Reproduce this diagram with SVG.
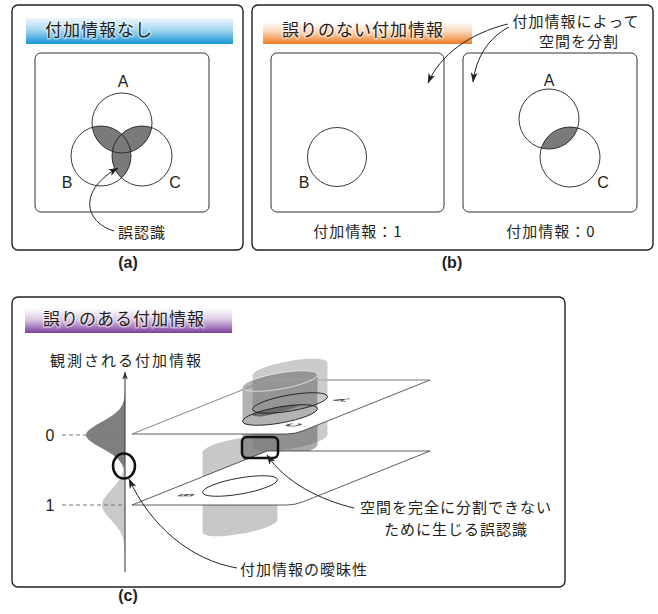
<svg xmlns="http://www.w3.org/2000/svg" width="658" height="614" viewBox="0 0 658 614">
<style>
.box{fill:#fff;stroke:#222;stroke-width:1.4}
.inner{fill:none;stroke:#333;stroke-width:1}
.circ{fill:none;stroke:#222;stroke-width:0.9}
.shade{fill:#7a7a7a}
.jp{font-family:"Noto Sans CJK JP","Noto Sans CJK SC",sans-serif;font-size:15px;fill:#231f20;letter-spacing:1px}
.hdr{font-family:"Noto Sans CJK JP","Noto Sans CJK SC",sans-serif;font-size:17px;fill:#231f20;letter-spacing:1px;stroke:#fff;stroke-width:3;stroke-opacity:0.45;paint-order:stroke}
.lat{font-family:"Liberation Sans",Arial,sans-serif;font-size:16px;fill:#231f20}
.cap{font-family:"Liberation Sans",Arial,sans-serif;font-size:16px;font-weight:bold;fill:#231f20;text-anchor:middle}
.mid{text-anchor:middle}
.conn{fill:none;stroke:#222;stroke-width:1}
.plane{fill:#fff;stroke:#333;stroke-width:0.8}
.ell{fill:none;stroke:#222;stroke-width:0.9}
.tiny{font-family:"Liberation Sans",Arial,sans-serif;font-size:12px;fill:none;stroke:#333;stroke-width:0.7}
</style>
<defs>
<linearGradient id="gBlue" x1="0" y1="0" x2="0" y2="1">
<stop offset="0" stop-color="#eef7fc"/><stop offset="0.45" stop-color="#a9d8f1"/><stop offset="1" stop-color="#1694d4"/>
</linearGradient>
<linearGradient id="gOrange" x1="0" y1="0" x2="0" y2="1">
<stop offset="0" stop-color="#ffffff"/><stop offset="0.45" stop-color="#fbd6b6"/><stop offset="1" stop-color="#ee7a24"/>
</linearGradient>
<linearGradient id="gPurple" x1="0" y1="0" x2="0" y2="1">
<stop offset="0" stop-color="#ffffff"/><stop offset="0.45" stop-color="#dccbe6"/><stop offset="1" stop-color="#7e3f9c"/>
</linearGradient>
<marker id="ah" viewBox="0 0 10 7" refX="9.5" refY="3.5" markerWidth="10" markerHeight="7" markerUnits="userSpaceOnUse" orient="auto">
<path d="M0,0 L10,3.5 L0,7 L2.5,3.5 Z" fill="#222"/>
</marker>
<marker id="ahs" viewBox="0 0 10 7" refX="9.5" refY="3.5" markerWidth="8" markerHeight="6" markerUnits="userSpaceOnUse" orient="auto">
<path d="M0,0 L10,3.5 L0,7 L2.5,3.5 Z" fill="#333"/>
</marker>
<clipPath id="clA"><circle cx="122" cy="123" r="30"/></clipPath>
<clipPath id="clB"><circle cx="101" cy="156" r="30"/></clipPath>
<clipPath id="clA2"><circle cx="549" cy="119" r="30"/></clipPath>
<clipPath id="clEA"><ellipse cx="290" cy="403" rx="38" ry="8" transform="rotate(-10 290 403)"/></clipPath>
</defs>

<!-- Panel (a) -->
<g id="panel-a">
<rect class="box" x="12" y="5" width="231" height="245" rx="6"/>
<rect x="26" y="18" width="207" height="26" fill="url(#gBlue)"/>
<text class="hdr" x="45" y="36">付加情報なし</text>
<rect class="inner" x="35" y="53" width="174" height="159" rx="6"/>
</g>
<g id="venn-a">
<circle class="shade" cx="101" cy="156" r="30" clip-path="url(#clA)"/>
<circle class="shade" cx="142" cy="156" r="30" clip-path="url(#clA)"/>
<circle class="shade" cx="142" cy="156" r="30" clip-path="url(#clB)"/>
<circle class="circ" cx="122" cy="123" r="30"/>
<circle class="circ" cx="101" cy="156" r="30"/>
<circle class="circ" cx="142" cy="156" r="30"/>
<text class="lat mid" x="123" y="87">A</text>
<text class="lat mid" x="67" y="188">B</text>
<text class="lat mid" x="175" y="188">C</text>
</g>
<g id="label-a">
<text class="jp" x="118" y="238">誤認識</text>
<text class="cap" x="128" y="268">(a)</text>
</g>

<!-- Panel (b) -->
<g id="panel-b">
<rect class="box" x="252" y="5" width="401" height="245" rx="6"/>
<rect x="263" y="22" width="209" height="22" fill="url(#gOrange)"/>
<text class="hdr" x="282" y="36">誤りのない付加情報</text>
<text class="jp mid" x="576" y="27">付加情報によって</text>
<text class="jp mid" x="579" y="47">空間を分割</text>
</g>
<g id="box-b1">
<rect class="inner" x="271" y="53" width="173" height="159" rx="6"/>
<circle class="circ" cx="337" cy="157" r="29.5"/>
<text class="lat mid" x="304" y="188">B</text>
<text class="jp mid" x="358" y="237">付加情報：1</text>
</g>
<g id="box-b2">
<rect class="inner" x="463" y="53" width="174" height="159" rx="6"/>
<circle class="shade" cx="570" cy="157" r="30" clip-path="url(#clA2)"/>
<circle class="circ" cx="549" cy="119" r="30"/>
<circle class="circ" cx="570" cy="157" r="30"/>
<text class="lat mid" x="549" y="86">A</text>
<text class="lat mid" x="603" y="188">C</text>
<text class="jp mid" x="551" y="237">付加情報：0</text>
</g>
<text class="cap" x="452" y="268">(b)</text>

<!-- Panel (c) -->
<g id="panel-c">
<rect class="box" x="12" y="297" width="553" height="290" rx="6"/>
<rect x="25" y="308" width="207" height="25" fill="url(#gPurple)"/>
<text class="hdr" x="43" y="325">誤りのある付加情報</text>
<text class="jp" x="50" y="366" style="letter-spacing:2px">観測される付加情報</text>
</g>
<g id="distribution">
<path fill="#7f7f7f" d="M125,388 L124.9,390 L124.7,395 L124,400 L122.3,405 L118.9,410 L113.1,415 L105,420 L96,425 L88.8,430 L86.7,432.5 L86,435 L86.7,437.5 L88.8,440 L96,445 L105,450 L113.1,455 L118.9,460 L122.3,465 L124,470 L124.7,475 L125,480 Z"/>
<path fill="#c9c9c9" d="M125,455 L124.75,460 L124.35,465 L123.5,470 L121.9,475 L119.3,480 L115.5,485 L111,490 L106.6,495 L103.2,500 L102.3,502.5 L102,505 L102.3,507.5 L103.2,510 L106.6,515 L111,520 L115.5,525 L119.3,530 L121.9,535 L123.5,540 L124.35,545 L124.75,550 L125,555 Z"/>
<line x1="125" y1="572" x2="125" y2="372" stroke="#333" stroke-width="1" marker-end="url(#ahs)"/>
<line x1="62" y1="435" x2="124" y2="435" stroke="#777" stroke-width="1.2" stroke-dasharray="4 3"/>
<line x1="62" y1="505" x2="124" y2="505" stroke="#777" stroke-width="1.2" stroke-dasharray="4 3"/>
<text class="lat mid" x="50" y="441">0</text>
<text class="lat mid" x="50" y="511">1</text>
<ellipse cx="124" cy="466" rx="11" ry="12.5" fill="none" stroke="#111" stroke-width="2.5"/>
</g>

<g id="scene-3d">
<path fill="#c8c8c8" d="M202.55,452.3 A38,8,-10,0,1,277.45,439.7 L277.45,519.7 A38,8,-10,0,1,202.55,532.3 Z"/>
<path fill="#a9a9a9" fill-opacity="0.6" d="M252.55,409.3 A38,8,-10,0,1,327.45,396.7 L327.45,434.7 A38,8,-10,0,1,252.55,447.3 Z"/>
<path fill="#555" fill-opacity="0.5" d="M242.55,421.3 A38,8,-10,0,1,317.45,408.7 L317.45,444.7 A38,8,-10,0,1,242.55,457.3 Z"/>
<path class="plane" d="M132,505 L267,451 L430,451 L303,501.8 Q295,505 287,505 Z"/>
<ellipse class="ell" cx="240" cy="486" rx="38" ry="8" transform="rotate(-10 240 486)"/>
<text class="tiny mid" transform="matrix(0.6,-0.35,1.6,0,193,495)">B</text>
<path class="plane" d="M132,434 L267,380 L430,380 L303,430.8 Q295,434 287,434 Z"/>
<path fill="#a9a9a9" fill-opacity="0.6" d="M252.55,375.3 A38,8,-10,0,1,327.45,362.7 L327.45,396.7 A38,8,-10,0,1,252.55,409.3 Z"/>
<path fill="#555" fill-opacity="0.45" d="M242.55,387.3 A38,8,-10,0,1,317.45,374.7 L317.45,408.7 A38,8,-10,0,1,242.55,421.3 Z"/>
<ellipse cx="280" cy="381" rx="38" ry="8" transform="rotate(-10 280 381)" fill="none" stroke="#e6e6e6" stroke-width="0.8"/>
<path d="M132,434 L267,380 L430,380" fill="none" stroke="#fff" stroke-opacity="0.5" stroke-width="0.7"/>
<ellipse fill="#6a6a6a" cx="280" cy="415" rx="38" ry="8" transform="rotate(-10 280 415)" clip-path="url(#clEA)"/>
<ellipse class="ell" cx="290" cy="403" rx="38" ry="8" transform="rotate(-10 290 403)"/>
<ellipse class="ell" cx="280" cy="415" rx="38" ry="8" transform="rotate(-10 280 415)"/>
<text class="tiny mid" transform="matrix(0.6,-0.35,1.6,0,347,400)">A</text>
<text class="tiny mid" transform="matrix(0.6,-0.35,1.6,0,300,425)">C</text>
<rect x="242" y="437" width="36" height="21" rx="5" fill="none" stroke="#111" stroke-width="2.5"/>
</g>

<g id="labels-c">
<text class="jp mid" x="456" y="513">空間を完全に分割できない</text>
<text class="jp mid" x="456" y="535">ために生じる誤認識</text>
<text class="jp" x="240" y="575">付加情報の曖昧性</text>
<text class="cap" x="128" y="601">(c)</text>
</g>

<g id="connectors">
<path class="conn" d="M114,231 C84,222 78,190 118,168" marker-end="url(#ah)"/>
<path class="conn" d="M508,24 C470,33 440,55 428,83" marker-end="url(#ah)"/>
<path class="conn" d="M509,27 C488,38 476,58 473,82" marker-end="url(#ah)"/>
<path class="conn" d="M237,568 C190,560 150,525 129,479" marker-end="url(#ah)"/>
<path class="conn" d="M354,508 C320,500 285,482 267,455" marker-end="url(#ah)"/>
</g>
</svg>
